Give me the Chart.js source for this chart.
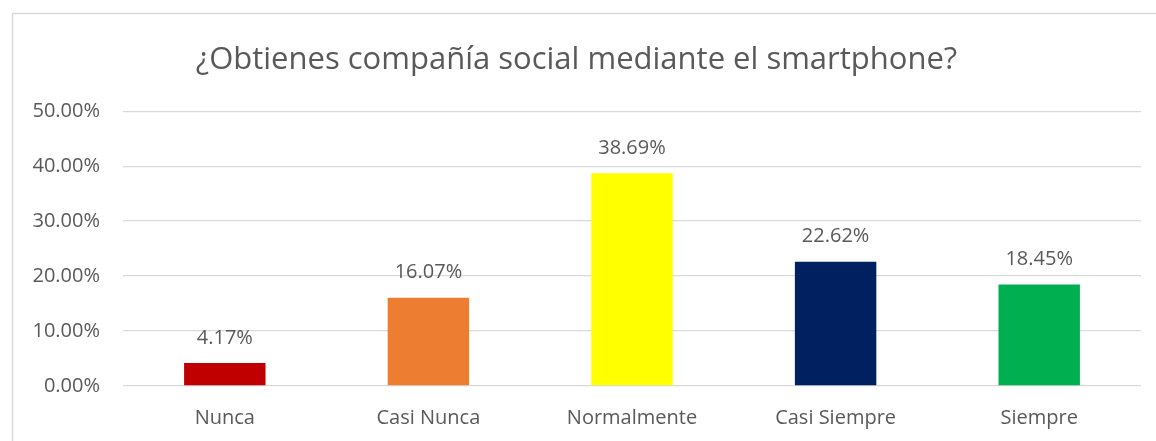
<!DOCTYPE html>
<html>
<head>
<meta charset="utf-8">
<script src="https://cdn.jsdelivr.net/npm/chart.js@4"></script>
<style>
    html, body { margin: 0; padding: 0; background: #fff; }
    #wrap { position: relative; width: 1156px; height: 441px; }
</style>
</head>
<body>
<div id="wrap"><canvas id="chart"></canvas></div>
<script>
const TITLE_TEXT = "¿Obtienes compañía social mediante el smartphone?";
const categories = ["Nunca", "Casi Nunca", "Normalmente", "Casi Siempre", "Siempre"];
const percentages = [4.17, 16.07, 38.69, 22.62, 18.45];
const barColors = ["#C00000", "#ED7D31", "#FFFF00", "#002060", "#00B050"];
const Y_MAX = 50;
const Y_STEP = 10;

const FONT = "'Open Sans', 'Noto Sans', sans-serif";
const TEXT_COLOR = "#595959";
const GRID_COLOR = "#D9D9D9";

// outer frame, only top and left edges are visible in the crop
const framePlugin = {
    id: "frame",
    beforeDraw(chart) {
        const { ctx, width, height } = chart;
        ctx.save();
        ctx.strokeStyle = GRID_COLOR;
        ctx.lineWidth = 1.5;
        ctx.beginPath();
        ctx.moveTo(12.5, height);
        ctx.lineTo(12.5, 13.5);
        ctx.lineTo(width, 13.5);
        ctx.stroke();
        ctx.restore();
    }
};

// value labels above each bar
const valueLabels = {
    id: "valueLabels",
    afterDatasetsDraw(chart) {
        const { ctx } = chart;
        const meta = chart.getDatasetMeta(0);
        ctx.save();
        ctx.font = "20px " + FONT;
        ctx.fillStyle = TEXT_COLOR;
        ctx.textAlign = "center";
        ctx.textBaseline = "middle";
        meta.data.forEach((bar, i) => {
            ctx.fillText(percentages[i].toFixed(2) + "%", bar.x, bar.y - 25);
        });
        ctx.restore();
    }
};

const ctx = document.getElementById("chart");

const chart = new Chart(ctx, {
    type: "bar",
    data: {
        labels: categories,
        datasets: [{
            data: percentages,
            backgroundColor: barColors,
            borderWidth: 0,
            barPercentage: 0.4,
            categoryPercentage: 1.0
        }]
    },
    options: {
        responsive: true,
        maintainAspectRatio: false,
        animation: false,
        layout: {
            padding: { left: 12, right: 15, top: 0, bottom: 0 }
        },
        plugins: {
            legend: { display: false },
            tooltip: { enabled: false },
            title: {
                display: true,
                text: TITLE_TEXT,
                color: TEXT_COLOR,
                font: { family: FONT, size: 31, weight: "normal", lineHeight: 1.2 },
                padding: { top: 42, bottom: 32 }
            }
        },
        scales: {
            x: {
                grid: { display: false },
                border: { display: false },
                ticks: {
                    color: TEXT_COLOR,
                    font: { family: FONT, size: 20 },
                    padding: 12,
                    maxRotation: 0
                },
                afterFit: scale => { scale.height = 55; }
            },
            y: {
                min: 0,
                max: Y_MAX,
                grid: { color: GRID_COLOR, lineWidth: 1.3, drawTicks: false },
                border: { display: false },
                ticks: {
                    stepSize: Y_STEP,
                    color: TEXT_COLOR,
                    font: { family: FONT, size: 20 },
                    padding: 23,
                    callback: v => v.toFixed(2) + "%"
                },
                afterFit: scale => { scale.width = 111; }
            }
        }
    },
    plugins: [framePlugin, valueLabels]
});
</script>
</body>
</html>
